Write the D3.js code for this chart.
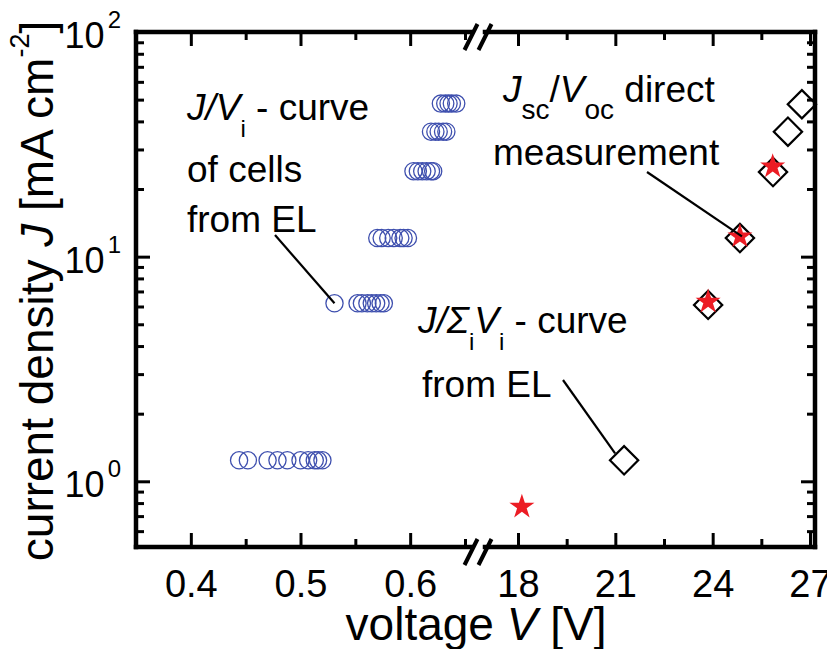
<!DOCTYPE html>
<html>
<head>
<meta charset="utf-8">
<script src="https://cdn.jsdelivr.net/npm/d3@7"></script>
<style>
body { margin: 0; background: #fff; }
text { font-family: "Liberation Sans", Arial, sans-serif; fill: #000; }
</style>
</head>
<body>
<div id="chart"></div>
<script>
// data
const cellJ = [1.24, 6.2, 12.1, 24, 36, 48]
const cellV = [
    [0.444, 0.452, 0.470, 0.479, 0.488, 0.500, 0.507, 0.513, 0.516, 0.520],
    [0.531, 0.552, 0.556, 0.561, 0.565, 0.569, 0.573, 0.576],
    [0.570, 0.574, 0.580, 0.585, 0.591, 0.594, 0.598],
    [0.603, 0.607, 0.611, 0.615, 0.619, 0.621],
    [0.619, 0.623, 0.626, 0.630, 0.633],
    [0.628, 0.632, 0.635, 0.638, 0.642]
]
const sumV = [21.27, 23.86, 24.84, 25.86, 26.32, 26.75]
const sumJ = [1.24, 6.1, 12.1, 23.8, 36, 47.7]
const directV = [18.12, 23.86, 24.84, 25.85]
const directJ = [0.77, 6.3, 12.3, 25.2]

const lowTicks = [0.4, 0.5, 0.6]
const lowMinor = [0.45, 0.55, 0.65]
const highTicks = [18, 21, 24, 27]
const highMinor = [19.5, 22.5, 25.5]
const yTicks = [1, 10, 100]
const yTickExp = ["0", "1", "2"]

// layout
const width = 827
const height = 649
const margin = { top: 32, bottom: 102, left: 136, right: 12 }
const plotBottom = height - margin.bottom
const plotRight = width - margin.right
const breakL = 471
const breakR = 485

const svg = d3.select("div#chart").append("svg").attr("width", width).attr("height", height)
const axisGroup = svg.append("g").attr("class", "axisGroup")
const elementGroup = svg.append("g").attr("class", "elementGroup")
const labelGroup = svg.append("g").attr("class", "labelGroup")

const xLow = d3.scaleLinear().domain([0.35, 0.65]).range([margin.left, 465])
const xHigh = d3.scaleLinear().domain([18, 27]).range([518, 810])
const y = d3.scaleLog().domain([0.51, 100]).range([plotBottom, margin.top])
const yMinor = y.ticks().filter(d => !yTicks.includes(d))

// axes: ticks point inwards
function styleAxis(g) {
    g.select(".domain").remove()
    g.selectAll(".tick line").attr("stroke", "#000").attr("stroke-width", 3)
}
function addAxis(axis, tx, ty) {
    axisGroup.append("g").attr("transform", `translate(${tx}, ${ty})`).call(axis).call(styleAxis)
}

const fmt = d3.format(".1f")
addAxis(d3.axisBottom(xLow).tickValues(lowTicks).tickSize(-14).tickPadding(23).tickFormat(fmt), 0, plotBottom)
addAxis(d3.axisBottom(xLow).tickValues(lowMinor).tickSize(-8).tickFormat(""), 0, plotBottom)
addAxis(d3.axisBottom(xHigh).tickValues(highTicks).tickSize(-14).tickPadding(23).tickFormat(d3.format("d")), 0, plotBottom)
addAxis(d3.axisBottom(xHigh).tickValues(highMinor).tickSize(-8).tickFormat(""), 0, plotBottom)
addAxis(d3.axisTop(xLow).tickValues(lowTicks).tickSize(-14).tickFormat(""), 0, margin.top)
addAxis(d3.axisTop(xLow).tickValues(lowMinor).tickSize(-8).tickFormat(""), 0, margin.top)
addAxis(d3.axisTop(xHigh).tickValues(highTicks).tickSize(-14).tickFormat(""), 0, margin.top)
addAxis(d3.axisTop(xHigh).tickValues(highMinor).tickSize(-8).tickFormat(""), 0, margin.top)
addAxis(d3.axisLeft(y).tickValues(yTicks).tickSize(-14).tickFormat(""), margin.left, 0)
addAxis(d3.axisLeft(y).tickValues(yMinor).tickSize(-8).tickFormat(""), margin.left, 0)
addAxis(d3.axisRight(y).tickValues(yTicks).tickSize(-14).tickFormat(""), plotRight, 0)
addAxis(d3.axisRight(y).tickValues(yMinor).tickSize(-8).tickFormat(""), plotRight, 0)

axisGroup.selectAll(".tick text").attr("font-size", 38).attr("fill", "#000")
    .attr("font-family", "'Liberation Sans', Arial, sans-serif")

// frame with the axis break
const frame = [
    [margin.left, margin.top, margin.left, plotBottom],
    [plotRight, margin.top, plotRight, plotBottom],
    [margin.left, margin.top, breakL, margin.top],
    [breakR, margin.top, plotRight, margin.top],
    [margin.left, plotBottom, breakL, plotBottom],
    [breakR, plotBottom, plotRight, plotBottom]
]
axisGroup.selectAll("line.frame").data(frame).join("line").attr("class", "frame")
    .attr("x1", d => d[0]).attr("y1", d => d[1]).attr("x2", d => d[2]).attr("y2", d => d[3])
    .attr("stroke", "#000").attr("stroke-width", 4.5).attr("stroke-linecap", "square")

const slashes = []
;[margin.top, plotBottom].forEach(yy => [breakL, breakR].forEach(xx => slashes.push([xx, yy + 5])))
axisGroup.selectAll("line.slash").data(slashes).join("line").attr("class", "slash")
    .attr("x1", d => d[0] - 6.5).attr("y1", d => d[1] + 13)
    .attr("x2", d => d[0] + 6.5).attr("y2", d => d[1] - 13)
    .attr("stroke", "#000").attr("stroke-width", 4)

// y tick labels 10^n
const yLab = axisGroup.selectAll("text.ylab").data(yTicks).join("text").attr("class", "ylab")
    .attr("x", 121).attr("y", d => y(d) + 16).attr("text-anchor", "end").attr("font-size", 36)
yLab.append("tspan").text("10")
yLab.append("tspan").attr("dx", 3).attr("dy", -20).attr("font-size", 24).text((d, i) => yTickExp[i])

// markers
const cells = cellV.flatMap((row, i) => row.map(v => ({ v: v, j: cellJ[i] })))
elementGroup.selectAll("circle").data(cells).join("circle")
    .attr("cx", d => xLow(d.v)).attr("cy", d => y(d.j)).attr("r", 8.6)
    .attr("fill", "none").attr("stroke", "#3e4fae").attr("stroke-width", 1.3)

const diamond = d3.symbol().type(d3.symbolSquare).size(400)
elementGroup.selectAll("path.sum").data(sumV).join("path").attr("class", "sum")
    .attr("d", diamond)
    .attr("transform", (d, i) => `translate(${xHigh(d)}, ${y(sumJ[i])}) rotate(45)`)
    .attr("fill", "none").attr("stroke", "#000").attr("stroke-width", 2.2)

const star = d3.symbol().type(d3.symbolStar).size(195)
elementGroup.selectAll("path.direct").data(directV).join("path").attr("class", "direct")
    .attr("d", star)
    .attr("transform", (d, i) => `translate(${xHigh(d)}, ${y(directJ[i])})`)
    .attr("fill", "#ec1c24")

// leader lines
const leaders = [
    [275, 235, xLow(cellV[1][0]), y(cellJ[1])],
    [647, 172, xHigh(directV[2]) + 2, y(directJ[2])],
    [563, 380, xHigh(sumV[0]) - 9, y(sumJ[0]) - 7]
]
labelGroup.selectAll("line.leader").data(leaders).join("line").attr("class", "leader")
    .attr("x1", d => d[0]).attr("y1", d => d[1]).attr("x2", d => d[2]).attr("y2", d => d[3])
    .attr("stroke", "#000").attr("stroke-width", 2.2)

// annotation texts: parts = [text, style] with style "i" italic, "s" subscript
function note(x, yy, parts, subSize) {
    const t = labelGroup.append("text").attr("x", x).attr("y", yy).attr("font-size", 37)
    let shift = 0
    parts.forEach(p => {
        const s = t.append("tspan").text(p[0])
        const drop = p[1] === "s" ? 17 : 0
        if (drop !== shift) s.attr("dy", drop - shift)
        shift = drop
        if (p[1] === "i") s.attr("font-style", "italic")
        if (p[1] === "s") s.attr("font-size", subSize)
    })
    return t
}

note(187, 120, [["J/V", "i"], ["i", "s"], [" - curve", ""]], 24)
note(187, 182, [["of cells", ""]])
note(187, 232, [["from EL", ""]])

note(503, 102, [["J", "i"], ["sc", "s"], ["/", ""], ["V", "i"], ["oc", "s"], [" direct", ""]], 28)
note(493, 165, [["measurement", ""]])

note(418, 333, [["J/Σ", "i"], ["i", "s"], ["V", "i"], ["i", "s"], [" - curve", ""]], 24)
note(422, 397, [["from EL", ""]])

// axis titles
let t = labelGroup.append("text").attr("x", 476).attr("y", 640).attr("text-anchor", "middle").attr("font-size", 46)
t.append("tspan").text("voltage ")
t.append("tspan").attr("font-style", "italic").text("V")
t.append("tspan").text(" [V]")

t = labelGroup.append("text").attr("transform", "translate(53, 291) rotate(-90)")
    .attr("text-anchor", "middle").attr("font-size", 46)
t.append("tspan").text("current density ")
t.append("tspan").attr("font-style", "italic").text("J")
t.append("tspan").text(" [mA cm")
t.append("tspan").attr("dy", -24).attr("font-size", 27).text("-2")
t.append("tspan").attr("dy", 24).text("]")
</script>
</body>
</html>
